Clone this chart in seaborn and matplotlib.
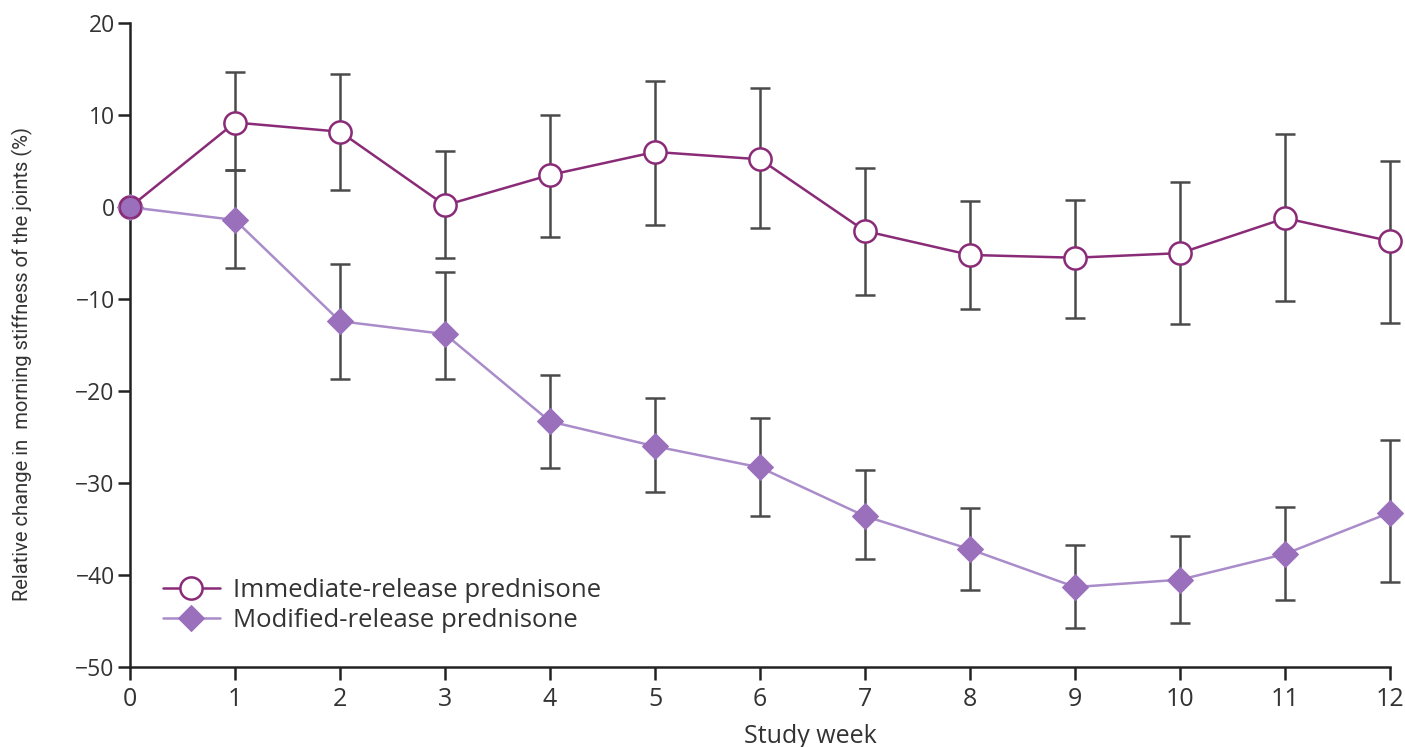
import matplotlib
matplotlib.use("Agg")
import matplotlib.pyplot as plt
import numpy as np
import pandas as pd
import seaborn as sns

## values
weeks = list(range(13))
ir_mean = [0.0, 9.2, 8.2, 0.2, 3.5, 6.0, 5.2, -2.6, -5.2, -5.5, -5.0, -1.2, -3.7]
ir_upper = [0.0, 14.7, 14.5, 6.1, 10.0, 13.7, 12.9, 4.2, 0.7, 0.8, 2.7, 7.9, 5.0]
ir_lower = [0.0, 4.0, 1.9, -5.5, -3.3, -1.9, -2.3, -9.6, -11.1, -12.0, -12.7, -10.2, -12.6]
mr_mean = [0.0, -1.4, -12.4, -13.8, -23.3, -26.0, -28.3, -33.6, -37.2, -41.3, -40.5, -37.7, -33.2]
mr_upper = [0.0, 4.0, -6.2, -7.0, -18.3, -20.8, -22.9, -28.6, -32.7, -36.7, -35.8, -32.6, -25.3]
mr_lower = [0.0, -6.6, -18.7, -18.7, -28.4, -31.0, -33.6, -38.2, -41.6, -45.8, -45.2, -42.7, -40.7]
labels = ["Immediate-release prednisone", "Modified-release prednisone"]

ir_col = "#8a2b78"
mr_col = "#9a6fbb"
mr_line = "#a98cc9"
err_col = "#4a4a4a"
txt_col = "#333333"

df = pd.concat([
    pd.DataFrame({"week": weeks, "change": ir_mean, "group": labels[0]}),
    pd.DataFrame({"week": weeks, "change": mr_mean, "group": labels[1]}),
])

sns.set_style("ticks")
plt.rcParams["font.family"] = ["Open Sans", "DejaVu Sans"]

fig = plt.figure(figsize=(14.05, 7.47), dpi=100)
ax = fig.add_axes([0.0925, 0.107, 0.897, 0.862])

# error bars (no bar at week 0)
for mean, lo, hi in [(ir_mean, ir_lower, ir_upper), (mr_mean, mr_lower, mr_upper)]:
    m = np.array(mean[1:])
    yerr = [m - np.array(lo[1:]), np.array(hi[1:]) - m]
    eb = ax.errorbar(weeks[1:], m, yerr=yerr, fmt="none", ecolor=err_col,
                     elinewidth=1.8, capsize=7, capthick=1.8, zorder=1)
    for art in eb.lines[1] + eb.lines[2]:
        art.set_clip_on(False)

# modified-release first so immediate-release sits on top at week 0
sub = df[df["group"] == labels[1]]
sns.lineplot(data=sub, x="week", y="change", ax=ax, color=mr_line, lw=1.8,
             marker="D", markersize=13, markerfacecolor=mr_col,
             markeredgecolor=mr_col, zorder=3, label=labels[1])
sub = df[df["group"] == labels[0]]
sns.lineplot(data=sub, x="week", y="change", ax=ax, color=ir_col, lw=1.8,
             marker="o", markersize=16, markerfacecolor="white",
             markeredgecolor=ir_col, markeredgewidth=1.8, zorder=2, label=labels[0])
# week 0 point is shown filled
ax.plot(0, mr_mean[0], marker="o", markersize=15, color=mr_col, zorder=4,
        markeredgecolor=ir_col, markeredgewidth=1.2)

ax.set_xlim(0, 12)
ax.set_ylim(-50, 20)
ax.set_xticks(range(0, 13))
ax.set_yticks(range(-50, 21, 10))
ax.set_yticklabels(["\u221250", "\u221240", "\u221230", "\u221220", "\u221210", "0", "10", "20"])
ax.tick_params(axis="both", length=9, width=1.8, color="#222222",
               labelcolor=txt_col, direction="out")
ax.tick_params(axis="x", labelsize=18, pad=5)
ax.tick_params(axis="y", labelsize=16.5, pad=2)
for s in ["left", "bottom"]:
    ax.spines[s].set_linewidth(1.8)
    ax.spines[s].set_color("#222222")
sns.despine(ax=ax)
ax.margins(0)
for ln in ax.lines:
    ln.set_clip_on(False)

ax.set_xlabel("Study week", fontsize=18, color=txt_col)
ax.xaxis.set_label_coords(0.54, -0.088)
ax.set_ylabel("Relative change in  morning stiffness of the joints (%)",
              fontsize=14.5, color=txt_col, family=["Roboto", "DejaVu Sans"])
ax.yaxis.set_label_coords(-0.077, 0.47)

h, l = ax.get_legend_handles_labels()
order = [l.index(labels[0]), l.index(labels[1])]
ax.legend([h[i] for i in order], [l[i] for i in order], loc="lower left",
          bbox_to_anchor=(0.008, 0.017), frameon=False, fontsize=18.5,
          handlelength=2.2, labelspacing=0.2, handletextpad=0.5,
          labelcolor=txt_col)

fig.savefig("out.png", dpi=100)
